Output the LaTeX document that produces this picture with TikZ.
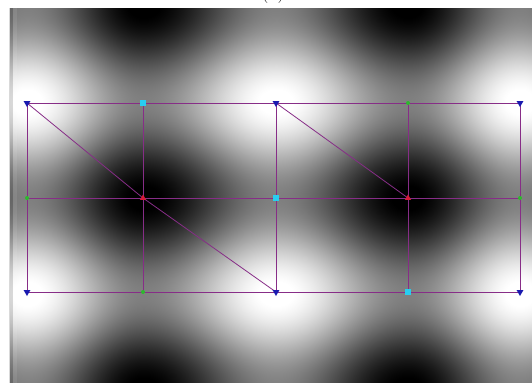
\documentclass[tikz,border=0pt]{standalone}
\usetikzlibrary{shapes.geometric}
\definecolor{gridline}{RGB}{135,45,135}
\definecolor{markblue}{RGB}{25,25,175}
\definecolor{markcyan}{RGB}{40,205,240}
\definecolor{markgreen}{RGB}{45,185,45}
\definecolor{markred}{RGB}{215,25,55}
% nền sóng xám: cos theo x (4 đoạn) + cos theo y
\pgfdeclarefunctionalshading{wave}{\pgfpoint{0bp}{0bp}}{\pgfpoint{523bp}{375bp}}{}{
  185 sub 1.875 mul cos neg
  exch 9 add
  dup 143 lt
  {27 sub 1.5517 mul}
  {dup 276 lt
    {143 sub 1.3534 mul 180 add}
    {dup 408 lt
      {276 sub 1.3636 mul 360 add}
      {408 sub 1.6071 mul 540 add} ifelse} ifelse} ifelse
  cos add 0.26 mul 0.5 add
  dup 0 lt {pop 0} if
  dup 1 gt {pop 1} if
  dup dup
}
\tikzset{
  downtri/.style={regular polygon, regular polygon sides=3, shape border rotate=180,
    fill=markblue, inner sep=0pt, minimum size=8bp},
  uptri/.style={regular polygon, regular polygon sides=3,
    fill=markred, inner sep=0pt, minimum size=7bp},
  cyansq/.style={rectangle, fill=markcyan, inner sep=0pt, minimum size=6bp},
  greendot/.style={circle, fill=markgreen, inner sep=0pt, minimum size=4bp},
  gridln/.style={gridline, line width=0.8bp}
}
\begin{document}
\begin{tikzpicture}[x=1bp,y=-1bp]
  \useasboundingbox (0,0) rectangle (532,383);
  % tiêu đề bị cắt ở mép trên
  \node[font=\fontsize{20}{24}\selectfont, anchor=base] (title) at (273,-2) {(a)};
  % ảnh nền
  \node[inner sep=0pt, anchor=south west] (bg) at (9,383) {\pgfuseshading{wave}};
  \fill[black, opacity=0.15] (9,8) rectangle (13,383);
  \fill[white, opacity=0.08] (13,8) rectangle (17,383);
  % các điểm lưới
  \foreach \x [count=\i] in {27,143,276,408,520} {
    \coordinate (t\i) at (\x,103);
    \coordinate (m\i) at (\x,198);
    \coordinate (b\i) at (\x,292);
  }
  % vẽ lưới
  \draw[gridln] (t1)--(t5) (m1)--(m5) (b1)--(b5);
  \foreach \i in {1,...,5}
    \draw[gridln] (t\i)--(b\i);
  \draw[gridln] (t1)--(m2)--(b3) (t3)--(m4);
  % các dấu
  \foreach \p in {t1,t3,t5,b1,b3,b5}
    \node[downtri] (k\p) at (\p) {};
  \foreach \p in {t2,m3,b4}
    \node[cyansq] (k\p) at (\p) {};
  \foreach \p in {t4,m1,m5,b2}
    \node[greendot] (k\p) at (\p) {};
  \foreach \p in {m2,m4}
    \node[uptri] (k\p) at (\p) {};
\end{tikzpicture}
\end{document}
